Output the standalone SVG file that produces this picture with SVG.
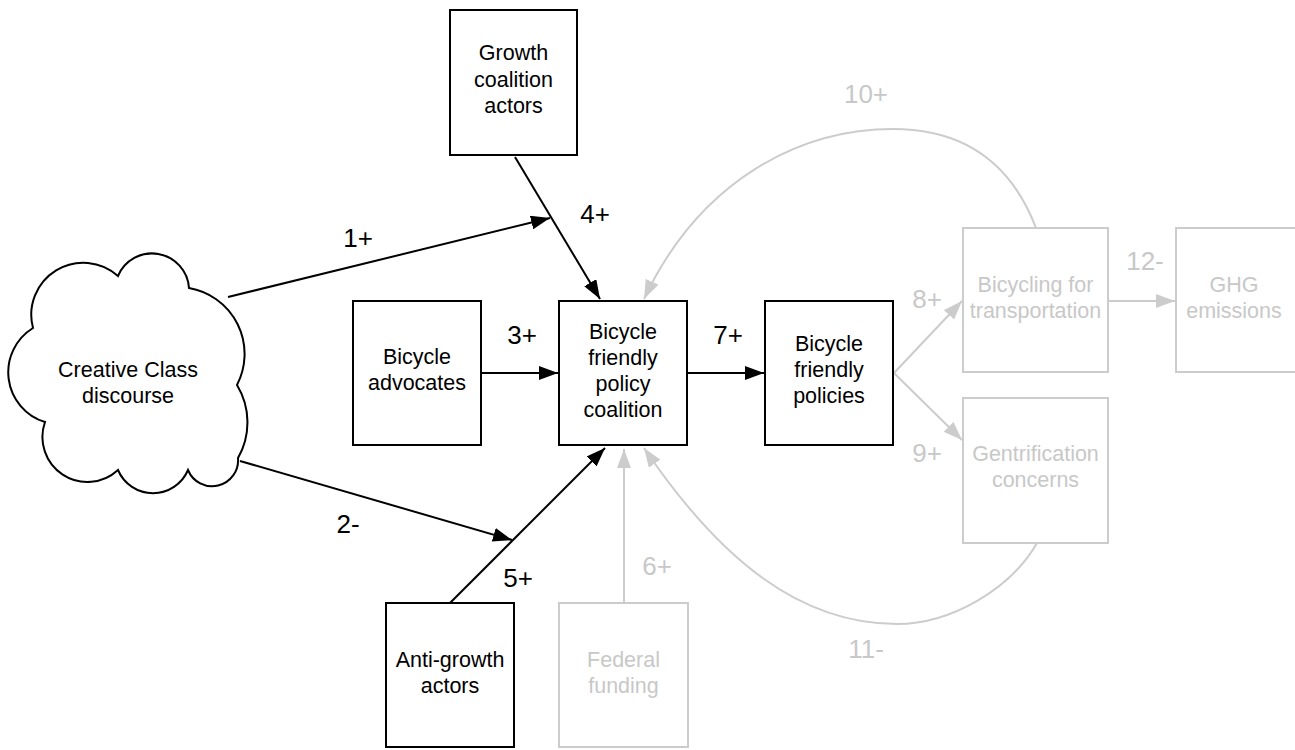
<svg xmlns="http://www.w3.org/2000/svg" width="1295" height="750" viewBox="0 0 1295 750">
<defs>
<style>
.box{fill:#fff;stroke:#000;stroke-width:2}
.gbox{fill:#fff;stroke:#cccccc;stroke-width:2}
.t{font-family:"Liberation Sans",Arial,sans-serif;font-size:21.5px;fill:#000;text-anchor:middle}
.gt{font-family:"Liberation Sans",Arial,sans-serif;font-size:21.5px;fill:#c8c8c8;text-anchor:middle}
.lb{font-family:"Liberation Sans",Arial,sans-serif;font-size:26px;fill:#000;text-anchor:middle}
.glb{font-family:"Liberation Sans",Arial,sans-serif;font-size:26px;fill:#c8c8c8;text-anchor:middle}
.e{fill:none;stroke:#000;stroke-width:2;marker-end:url(#ab)}
.ge{fill:none;stroke:#cccccc;stroke-width:2;marker-end:url(#ag)}
</style>
<marker id="ab" markerUnits="userSpaceOnUse" markerWidth="20" markerHeight="16" refX="19" refY="7" orient="auto"><path d="M0,0 L19,7 L0,14 z" fill="#000"/></marker>
<marker id="ag" markerUnits="userSpaceOnUse" markerWidth="20" markerHeight="16" refX="19" refY="7" orient="auto"><path d="M0,0 L19,7 L0,14 z" fill="#cccccc"/></marker>
</defs>
<rect width="1295" height="750" fill="#fff"/>
<g id="connectors">
<path class="e" d="M228,297 L550,218"/>
<path class="e" d="M240,461 L512,540"/>
<path class="e" d="M481,373 L558,373"/>
<path class="e" d="M515,157 L600,299"/>
<path class="e" d="M450,603 L605,448"/>
<path class="ge" d="M624,603 L624,449"/>
<path class="e" d="M687,373 L764,373"/>
<path class="ge" d="M894,373 L962,301"/>
<path class="ge" d="M894,373 L962,440"/>
<path class="ge" d="M1036,228 C1010,160 960,129 893,129 C800,129 700,180 644,299"/>
<path class="ge" d="M1037,543 C1010,590 950,624 897,624 C800,624 720,560 644,448"/>
<path class="ge" d="M1109,301 L1175,301"/>
<text class="lb" x="358" y="247">1+</text>
<text class="lb" x="348" y="533">2-</text>
<text class="lb" x="522" y="344">3+</text>
<text class="lb" x="595" y="223">4+</text>
<text class="lb" x="518" y="587">5+</text>
<text class="glb" x="657" y="575">6+</text>
<text class="lb" x="728" y="344">7+</text>
<text class="glb" x="927" y="308">8+</text>
<text class="glb" x="927" y="462">9+</text>
<text class="glb" x="866" y="103">10+</text>
<text class="glb" x="866" y="658">11-</text>
<text class="glb" x="1145" y="270">12-</text>
</g>
<g id="creative-class">
<path class="box" d="M33,328 A52,52 0 0 1 118,276 A37,37 0 0 1 189,288 A67,67 0 0 1 237,385 A72,72 0 0 1 238,458 A26,26 0 0 1 188,470 A38,38 0 0 1 118,470 A45,45 0 0 1 45,422 A52,52 0 0 1 33,328 Z"/>
<text class="t" x="128" y="377">Creative Class</text>
<text class="t" x="128" y="403">discourse</text>
</g>
<g id="growth-coalition">
<rect class="box" x="450" y="10" width="127" height="145"/>
<text class="t" x="513.5" y="60">Growth</text>
<text class="t" x="513.5" y="87">coalition</text>
<text class="t" x="513.5" y="113">actors</text>
</g>
<g id="bicycle-advocates">
<rect class="box" x="353" y="301" width="128" height="144"/>
<text class="t" x="417" y="364">Bicycle</text>
<text class="t" x="417" y="390">advocates</text>
</g>
<g id="policy-coalition">
<rect class="box" x="559" y="301" width="128" height="144"/>
<text class="t" x="623" y="339">Bicycle</text>
<text class="t" x="623" y="365">friendly</text>
<text class="t" x="623" y="391">policy</text>
<text class="t" x="623" y="417">coalition</text>
</g>
<g id="policies">
<rect class="box" x="765" y="301" width="128" height="144"/>
<text class="t" x="829" y="351">Bicycle</text>
<text class="t" x="829" y="377">friendly</text>
<text class="t" x="829" y="403">policies</text>
</g>
<g id="bicycling-transport">
<rect class="gbox" x="963" y="228" width="145" height="144"/>
<text class="gt" x="1035.5" y="292">Bicycling for</text>
<text class="gt" x="1035.5" y="318">transportation</text>
</g>
<g id="ghg">
<rect class="gbox" x="1176" y="228" width="145" height="144"/>
<text class="gt" x="1234" y="292">GHG</text>
<text class="gt" x="1234" y="318">emissions</text>
</g>
<g id="gentrification">
<rect class="gbox" x="963" y="398" width="145" height="145"/>
<text class="gt" x="1035.5" y="461">Gentrification</text>
<text class="gt" x="1035.5" y="487">concerns</text>
</g>
<g id="anti-growth">
<rect class="box" x="386" y="603" width="128" height="144"/>
<text class="t" x="450" y="667">Anti-growth</text>
<text class="t" x="450" y="693">actors</text>
</g>
<g id="federal-funding">
<rect class="gbox" x="559" y="603" width="129" height="144"/>
<text class="gt" x="623.5" y="667">Federal</text>
<text class="gt" x="623.5" y="693">funding</text>
</g>
</svg>
